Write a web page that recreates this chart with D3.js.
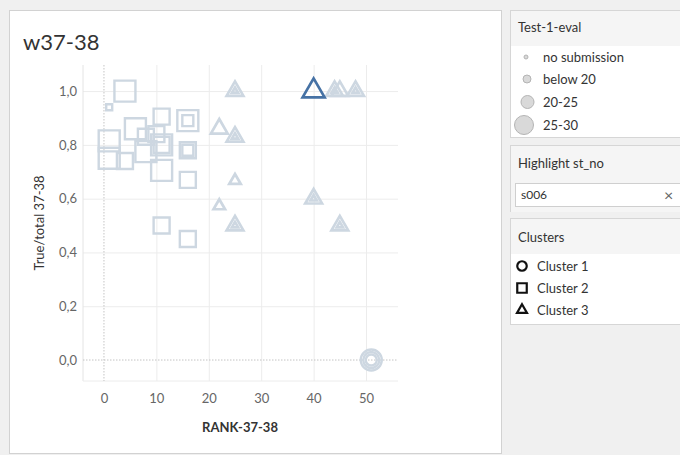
<!DOCTYPE html>
<html>
<head>
<meta charset="utf-8">
<script src="https://cdn.jsdelivr.net/npm/d3@7"></script>
<style>
  body { margin: 0; background: #f0f0f0; }
  svg { display: block; font-family: Lato, "Open Sans", sans-serif; }
</style>
</head>
<body>
<div class="visHolder"></div>
<script>
// one row per mark; repeated positions are students sharing a spot
var rank = [4, 1, 11, 16, 16, 1, 1, 4, 6, 8, 8, 10, 11, 11, 11, 16, 16, 16, 11, 16,
            25, 25, 22, 25, 25, 25, 22, 25, 25, 44, 44, 45, 48, 48, 40, 40, 45, 45,
            51, 51, 51, 40]
var ratio = [1.0, 0.94, 0.905, 0.89, 0.89, 0.815, 0.75, 0.74, 0.86, 0.775, 0.83, 0.84, 0.80, 0.80, 0.705, 0.78, 0.78, 0.67, 0.5, 0.45,
             1.0, 1.0, 0.86, 0.83, 0.83, 0.667, 0.573, 0.5, 0.5, 1.0, 1.0, 1.0, 1.0, 1.0, 0.6, 0.6, 0.5, 0.5,
             0.0, 0.0, 0.0, 1.0]
var cluster = [2, 2, 2, 2, 2, 2, 2, 2, 2, 2, 2, 2, 2, 2, 2, 2, 2, 2, 2, 2,
               3, 3, 3, 3, 3, 3, 3, 3, 3, 3, 3, 3, 3, 3, 3, 3, 3, 3,
               1, 1, 1, 3]
var testGroup = [3, 0, 2, 3, 1, 3, 3, 2, 3, 3, 2, 2, 3, 2, 3, 2, 1, 2, 2, 2,
                 2, 0, 2, 2, 0, 1, 1, 2, 0, 2, 0, 2, 2, 0, 2, 0, 2, 0,
                 3, 2, 1, 3]
var stNo = rank.map(() => "")
stNo[41] = "s006"
var highlight = "s006"

var xTicks = [0, 10, 20, 30, 40, 50]
var yTicks = [0, 0.2, 0.4, 0.6, 0.8, 1.0]
var testLabels = ["no submission", "below 20", "20-25", "25-30"]
var clusterLabels = ["Cluster 1", "Cluster 2", "Cluster 3"]

var width = 680
height = 455

var svg = d3.select('.visHolder')
    .append('svg')
    .attr('width', width)
    .attr('height', height)

svg.append('rect').attr('width', width).attr('height', height).attr('fill', '#f0f0f0')

// main sheet
svg.append('rect')
    .attr('x', 9.5).attr('y', 10.5).attr('width', 492).attr('height', 443)
    .attr('fill', '#fff').attr('stroke', '#d2d2d2')

svg.append('text')
    .attr('x', 23).attr('y', 50)
    .style('font-size', '22px').style('fill', '#333')
    .text('w37-38')

var xScale = d3.scaleLinear().domain([-4, 56.1]).range([83, 398])
var yScale = d3.scaleLinear().domain([-0.078, 1.097]).range([381, 65])

var comma = d3.formatLocale({decimal: ",", thousands: ".", grouping: [3], currency: ["", ""]}).format(".1f")

// grid
svg.append('g')
    .attr('transform', 'translate(0,381)')
    .call(d3.axisBottom(xScale).tickValues(xTicks.slice(1)).tickSize(-316).tickFormat(''))
    .call(g => g.select('.domain').remove())
    .selectAll('line').attr('stroke', '#ececec')

svg.append('g')
    .attr('transform', 'translate(83,0)')
    .call(d3.axisLeft(yScale).tickValues(yTicks.slice(1)).tickSize(-315).tickFormat(''))
    .call(g => g.select('.domain').remove())
    .selectAll('line').attr('stroke', '#ececec')

svg.append('line').attr('x1', 83).attr('x2', 83).attr('y1', 65).attr('y2', 381).attr('stroke', '#e4e4e4')
svg.append('line').attr('x1', 83).attr('x2', 398).attr('y1', 381).attr('y2', 381).attr('stroke', '#ececec')

// zero lines
svg.append('line')
    .attr('x1', xScale(0)).attr('x2', xScale(0)).attr('y1', 65).attr('y2', 381)
    .attr('stroke', '#c4c4c4').attr('stroke-dasharray', '1.5,1.5')
svg.append('line')
    .attr('x1', 83).attr('x2', 398).attr('y1', yScale(0)).attr('y2', yScale(0))
    .attr('stroke', '#c4c4c4').attr('stroke-dasharray', '1.5,1.5')

// axes labels
svg.append('g')
    .attr('transform', 'translate(0,381)')
    .call(d3.axisBottom(xScale).tickValues(xTicks).tickSize(0).tickPadding(13))
    .call(g => g.select('.domain').remove())
    .selectAll('text').style('font-size', '13px').style('fill', '#666').style('font-family', 'Lato, sans-serif')

svg.append('g')
    .attr('transform', 'translate(83,0)')
    .call(d3.axisLeft(yScale).tickValues(yTicks).tickSize(0).tickPadding(6).tickFormat(comma))
    .call(g => g.select('.domain').remove())
    .selectAll('text').style('font-size', '13px').style('fill', '#666').style('font-family', 'Lato, sans-serif')

svg.append('text')
    .attr('x', 240).attr('y', 432)
    .attr('text-anchor', 'middle')
    .style('font-size', '13px').style('font-weight', 'bold').style('fill', '#333')
    .text('RANK-37-38')

svg.append('text')
    .attr('transform', 'translate(44,223) rotate(-90)')
    .attr('text-anchor', 'middle')
    .style('font-size', '13px').style('fill', '#333')
    .text('True/total 37-38')

// marks
var sideScale = d3.scaleOrdinal().domain([0, 1, 2, 3]).range([6, 11, 16, 21])
var shapeScale = d3.scaleOrdinal().domain([1, 2, 3]).range([d3.symbolCircle, d3.symbolSquare, d3.symbolTriangle])

function symbolArea(c, s) {
    if (c == 1) return Math.PI * s * s / 4
    if (c == 3) return Math.sqrt(3) / 4 * s * s * 1.1
    return s * s
}

var idx = d3.range(rank.length).sort((a, b) => (stNo[a] == highlight) - (stNo[b] == highlight))

svg.append('g').selectAll('path')
    .data(idx)
    .enter()
    .append('path')
    .attr('transform', (i) => `translate(${xScale(rank[i])},${yScale(ratio[i])})`)
    .attr('d', (i) => d3.symbol().type(shapeScale(cluster[i])).size(symbolArea(cluster[i], sideScale(testGroup[i])))())
    .attr('fill', 'none')
    .attr('stroke', (i) => stNo[i] == highlight ? '#4672a5' : '#cdd7e1')
    .attr('stroke-width', (i) => cluster[i] == 3 ? 2.7 : 2.4)
    .attr('stroke-linejoin', 'miter')

// legend panels
function panel(y, h, headH) {
    svg.append('rect')
        .attr('x', 510.5).attr('y', y + 0.5).attr('width', 180).attr('height', h)
        .attr('fill', '#fff').attr('stroke', '#d6d6d6')
    svg.append('rect')
        .attr('x', 511).attr('y', y + 1).attr('width', 180).attr('height', headH)
        .attr('fill', '#f5f5f5')
}

panel(10, 127, 35)
svg.append('text').attr('x', 518).attr('y', 32).style('font-size', '13px').style('fill', '#333').text('Test-1-eval')

var legendY = [57, 79, 102, 125]
var legendR = [2, 4, 6.5, 9.5]
var legendX = [526, 527, 527.5, 524]
svg.append('g').selectAll('circle')
    .data(testLabels)
    .enter()
    .append('circle')
    .attr('cx', (d, i) => legendX[i])
    .attr('cy', (d, i) => legendY[i])
    .attr('r', (d, i) => legendR[i])
    .attr('fill', '#d9d9d9')
    .attr('stroke', '#b4b4b4')
svg.append('g').selectAll('text')
    .data(testLabels)
    .enter()
    .append('text')
    .attr('x', 543)
    .attr('y', (d, i) => legendY[i] + 4.5)
    .style('font-size', '13px').style('fill', '#333')
    .text((d) => d)

panel(145, 66, 66)
svg.append('text').attr('x', 518).attr('y', 168).style('font-size', '13px').style('fill', '#333').text('Highlight st_no')
svg.append('rect')
    .attr('x', 515.5).attr('y', 183.5).attr('width', 175).attr('height', 23)
    .attr('fill', '#fff').attr('stroke', '#cfcfcf')
svg.append('text').attr('x', 521).attr('y', 199).style('font-size', '12px').style('fill', '#333').text(highlight)
svg.append('text').attr('x', 664).attr('y', 201).style('font-size', '16px').style('fill', '#666').text('×')

panel(218, 106, 35)
svg.append('text').attr('x', 518).attr('y', 242).style('font-size', '13px').style('fill', '#333').text('Clusters')

var clusterY = [266, 288, 310]
svg.append('g').selectAll('path')
    .data(clusterLabels)
    .enter()
    .append('path')
    .attr('transform', (d, i) => `translate(522,${clusterY[i]})`)
    .attr('d', (d, i) => d3.symbol().type(shapeScale(i + 1)).size(symbolArea(i + 1, 9.5))())
    .attr('fill', 'none')
    .attr('stroke', '#111')
    .attr('stroke-width', 2.2)
svg.append('g').selectAll('text')
    .data(clusterLabels)
    .enter()
    .append('text')
    .attr('x', 537)
    .attr('y', (d, i) => clusterY[i] + 4.5)
    .style('font-size', '13px').style('fill', '#333')
    .text((d) => d)
</script>
</body>
</html>
